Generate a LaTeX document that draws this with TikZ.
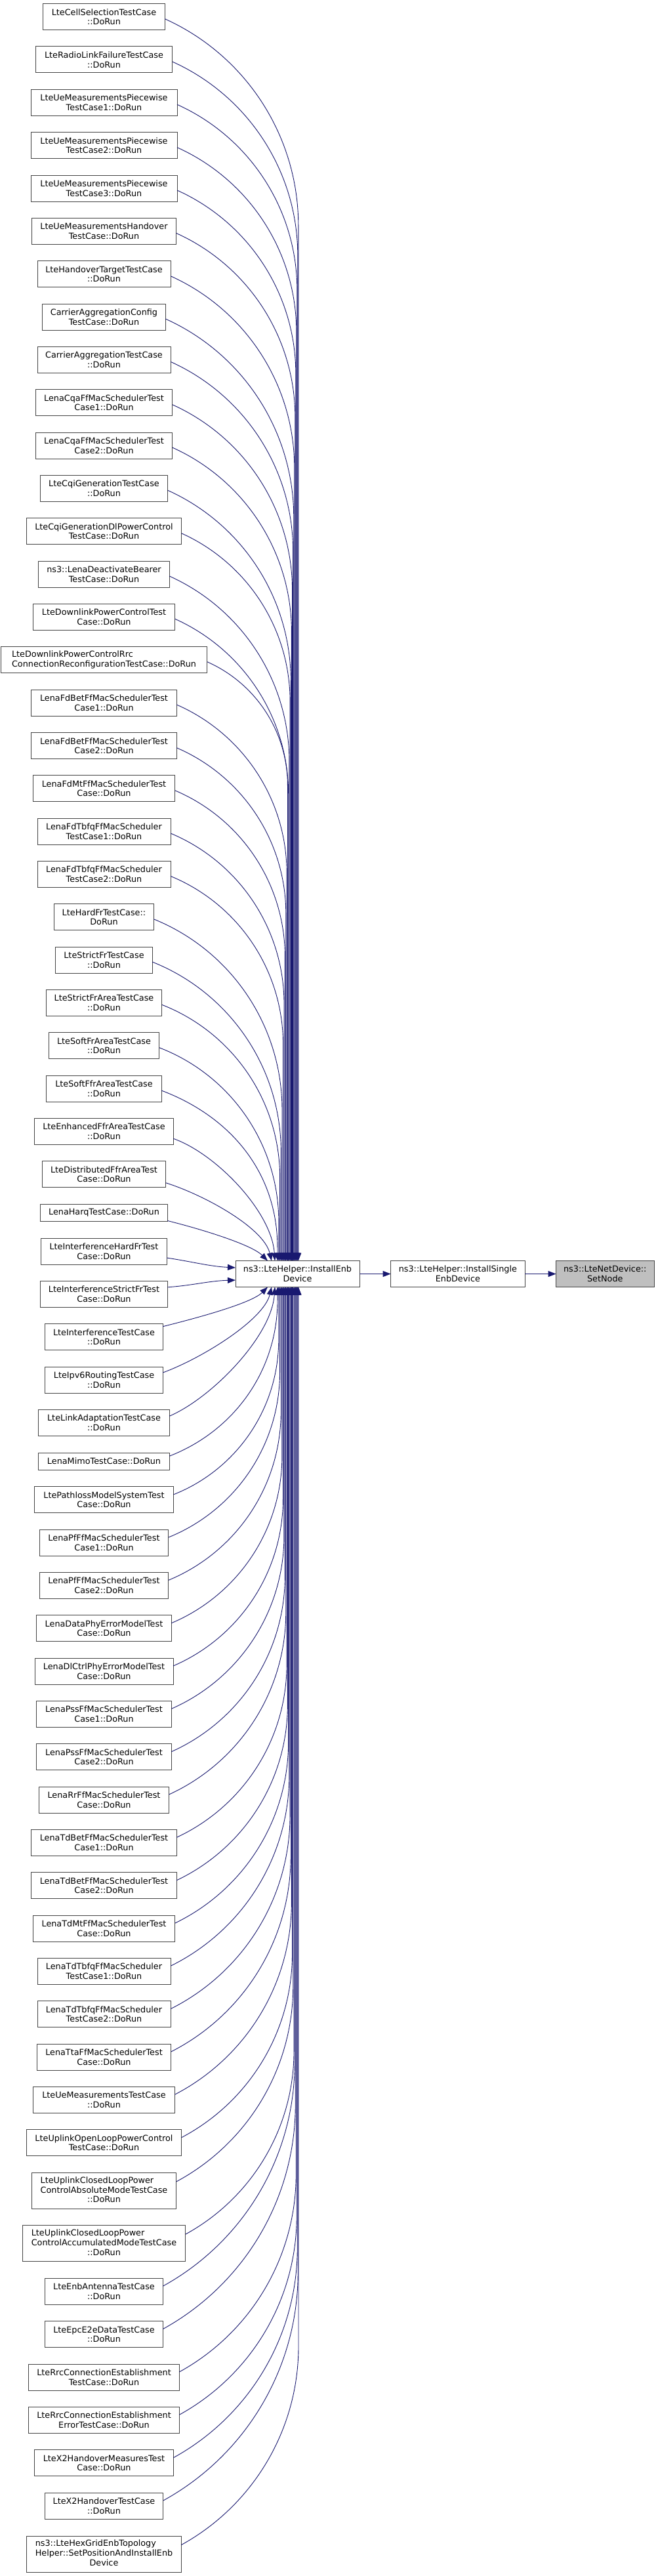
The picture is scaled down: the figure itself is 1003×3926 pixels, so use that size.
\documentclass[tikz,border=0pt]{standalone}
\usepackage{fontspec}
\setmainfont{DejaVu Sans}
\usetikzlibrary{arrows.meta}
\definecolor{edgecol}{HTML}{191970}
\definecolor{boxcol}{HTML}{444444}
\definecolor{hlfill}{HTML}{BFBFBF}
\begin{document}
\begin{tikzpicture}[x=1pt,y=-1pt,
  dbox/.style={draw=boxcol, line width=1pt, fill=white, inner sep=0pt, outer sep=0pt,
    align=center, font=\fontsize{12.8}{14.8}\selectfont, text=black},
  edge/.style={draw=edgecol, line width=0.9pt, -{Triangle[length=12pt,width=9pt]}}]
\useasboundingbox (0,0) rectangle (1003,3926);
\fill[white] (0,0) rectangle (1003,3926);

\node[dbox, minimum width=189pt, minimum height=40pt] (E) at (453.5,1941.5) {ns3::LteHelper::InstallEnb\\Device};
\node[dbox, minimum width=204.3pt, minimum height=40pt] (IS) at (697.85,1941.5) {ns3::LteHelper::InstallSingle\\EnbDevice};
\node[dbox, fill=hlfill, minimum width=149.4pt, minimum height=40pt] (SN) at (922.3,1941.5) {ns3::LteNetDevice::\\SetNode};
\draw[edge] (E.east) -- (IS.west);
\draw[edge] (IS.east) -- (SN.west);

\foreach \i/\cy/\w/\h/\txt in {
 1/25.7/185.3/40/{LteCellSelectionTestCase\\::DoRun},
 2/91/208.4/40/{LteRadioLinkFailureTestCase\\::DoRun},
 3/156.3/223/40/{LteUeMeasurementsPiecewise\\TestCase1::DoRun},
 4/221.7/223/40/{LteUeMeasurementsPiecewise\\TestCase2::DoRun},
 5/287/223/40/{LteUeMeasurementsPiecewise\\TestCase3::DoRun},
 6/352.3/220/40/{LteUeMeasurementsHandover\\TestCase::DoRun},
 7/417.7/203/40/{LteHandoverTargetTestCase\\::DoRun},
 8/483/187.6/40/{CarrierAggregationConfig\\TestCase::DoRun},
 9/548.3/203/40/{CarrierAggregationTestCase\\::DoRun},
 10/613.7/208.4/40/{LenaCqaFfMacSchedulerTest\\Case1::DoRun},
 11/679/208.4/40/{LenaCqaFfMacSchedulerTest\\Case2::DoRun},
 12/744.3/194.4/40/{LteCqiGenerationTestCase\\::DoRun},
 13/809.7/236/40/{LteCqiGenerationDlPowerControl\\TestCase::DoRun},
 14/875/199.3/40/{ns3::LenaDeactivateBearer\\TestCase::DoRun},
 15/940.3/216.7/40/{LteDownlinkPowerControlTest\\Case::DoRun},
 16/1005.7/314.8/40/{\begin{tabular}{@{}l@{}}LteDownlinkPowerControlRrc\\ConnectionReconfigurationTestCase::DoRun\end{tabular}},
 17/1071/221.6/40/{LenaFdBetFfMacSchedulerTest\\Case1::DoRun},
 18/1136.7/221.6/40/{LenaFdBetFfMacSchedulerTest\\Case2::DoRun},
 19/1201.7/216.4/40/{LenaFdMtFfMacSchedulerTest\\Case::DoRun},
 20/1267/203/40/{LenaFdTbfqFfMacScheduler\\TestCase1::DoRun},
 21/1332.3/203/40/{LenaFdTbfqFfMacScheduler\\TestCase2::DoRun},
 22/1397.7/151.3/40/{LteHardFrTestCase::\\DoRun},
 23/1463/147.3/40/{LteStrictFrTestCase\\::DoRun},
 24/1528.3/176.7/40/{LteStrictFrAreaTestCase\\::DoRun},
 25/1593.7/168.7/40/{LteSoftFrAreaTestCase\\::DoRun},
 26/1659/175.3/40/{LteSoftFfrAreaTestCase\\::DoRun},
 27/1724.3/211.6/40/{LteEnhancedFfrAreaTestCase\\::DoRun},
 28/1789.7/188.4/40/{LteDistributedFfrAreaTest\\Case::DoRun},
 29/1848.5/194/25.6/{LenaHarqTestCase::DoRun},
 30/1907/191.3/40/{LteInterferenceHardFrTest\\Case::DoRun},
 31/1972.3/194/40/{LteInterferenceStrictFrTest\\Case::DoRun},
 32/2037.7/179.3/40/{LteInterferenceTestCase\\::DoRun},
 33/2103/179.3/40/{LteIpv6RoutingTestCase\\::DoRun},
 34/2168.3/199.3/40/{LteLinkAdaptationTestCase\\::DoRun},
 35/2227.2/199.3/25.7/{LenaMimoTestCase::DoRun},
 36/2285.7/212.4/40/{LtePathlossModelSystemTest\\Case::DoRun},
 37/2351/196.7/40/{LenaPfFfMacSchedulerTest\\Case1::DoRun},
 38/2416.3/196.7/40/{LenaPfFfMacSchedulerTest\\Case2::DoRun},
 39/2481.7/205.6/40/{LenaDataPhyErrorModelTest\\Case::DoRun},
 40/2547/211/40/{LenaDlCtrlPhyErrorModelTest\\Case::DoRun},
 41/2612.3/205.6/40/{LenaPssFfMacSchedulerTest\\Case1::DoRun},
 42/2677.7/205.6/40/{LenaPssFfMacSchedulerTest\\Case2::DoRun},
 43/2743/198/40/{LenaRrFfMacSchedulerTest\\Case::DoRun},
 44/2808.3/221.6/40/{LenaTdBetFfMacSchedulerTest\\Case1::DoRun},
 45/2873.7/221.6/40/{LenaTdBetFfMacSchedulerTest\\Case2::DoRun},
 46/2939/216.4/40/{LenaTdMtFfMacSchedulerTest\\Case::DoRun},
 47/3004.3/203/40/{LenaTdTbfqFfMacScheduler\\TestCase1::DoRun},
 48/3069.7/203/40/{LenaTdTbfqFfMacScheduler\\TestCase2::DoRun},
 49/3135/204.4/40/{LenaTtaFfMacSchedulerTest\\Case::DoRun},
 50/3200.3/215.6/40/{LteUeMeasurementsTestCase\\::DoRun},
 51/3265.7/236.4/40/{LteUplinkOpenLoopPowerControl\\TestCase::DoRun},
 52/3339/220.4/55.4/{\begin{tabular}{@{}l@{}}LteUplinkClosedLoopPower\\ControlAbsoluteModeTestCase\\\multicolumn{1}{@{}c@{}}{::DoRun}\end{tabular}},
 53/3419.2/248.4/55/{\begin{tabular}{@{}l@{}}LteUplinkClosedLoopPower\\ControlAccumulatedModeTestCase\\\multicolumn{1}{@{}c@{}}{::DoRun}\end{tabular}},
 54/3492.3/179.3/40/{LteEnbAntennaTestCase\\::DoRun},
 55/3557.7/179.3/40/{LteEpcE2eDataTestCase\\::DoRun},
 56/3623/229.6/40/{LteRrcConnectionEstablishment\\TestCase::DoRun},
 57/3688.3/229.6/40/{LteRrcConnectionEstablishment\\ErrorTestCase::DoRun},
 58/3753.7/211.7/40/{LteX2HandoverMeasuresTest\\Case::DoRun},
 59/3819/180.7/40/{LteX2HandoverTestCase\\::DoRun},
 60/3892.7/235.3/55.3/{\begin{tabular}{@{}l@{}}ns3::LteHexGridEnbTopology\\Helper::SetPositionAndInstallEnb\\\multicolumn{1}{@{}c@{}}{Device}\end{tabular}}%
}{
  \node[dbox, minimum width=\w pt, minimum height=\h pt] (n\i) at (158.5,\cy) {\txt};
  \pgfmathsetmacro\eRx{158.5+\w/2}
  \ifnum\i<27
    \pgfmathsetmacro\eS{3}
    \pgfmathsetmacro\eSy{\cy+\eS}
    \pgfmathsetmacro\eDy{abs(1941.5-\cy)}
    \pgfmathsetmacro\eM{0.35+0.1*min(1,\eDy/1000)}
    \pgfmathsetmacro\eLim{1921.5-\eSy-20}
  \else
    \pgfmathsetmacro\eS{\h>50 ? 14 : 8}
    \pgfmathsetmacro\eSy{\cy-\eS}
    \pgfmathsetmacro\eDy{abs(\cy-1941.5)}
    \pgfmathsetmacro\eM{0.35+0.2*min(1,\eDy/1500)}
    \pgfmathsetmacro\eLim{\eSy-1961.5-20}
  \fi
  \pgfmathsetmacro\eXt{408+47*(max(0.001,min(1,\eDy/1930)))^0.6}
  \pgfmathsetmacro\eXo{\eXt-359}
  \pgfmathsetmacro\eTh{atan(\eM)}
  \pgfmathsetmacro\eRad{(\eXt-\eRx)/(1-sin(\eTh))}
  \pgfmathsetmacro\eR{max(0,min(\eRad*cos(\eTh),\eLim))}
  \pgfmathsetmacro\eH{4/3*tan((90-\eTh)/4)*\eRad}
  \pgfmathsetmacro\eHb{min(\eH,0.55*\eR)}
  \pgfmathsetmacro\eHx{\eH*cos(\eTh)}
  \pgfmathsetmacro\eHy{\eH*sin(\eTh)}
  \ifnum\i<27
    \pgfmathsetmacro\eBy{\eSy+\eR}
    \draw[edge] ([yshift=-\eS pt]n\i.east) .. controls +(\eHx,\eHy) and +(0,-\eHb) .. (\eXt,\eBy) -- ([xshift=\eXo pt]E.north west);
  \else\ifnum\i>34
    \pgfmathsetmacro\eBy{\eSy-\eR}
    \draw[edge] ([yshift=\eS pt]n\i.east) .. controls +(\eHx,-\eHy) and +(0,\eHb) .. (\eXt,\eBy) -- ([xshift=\eXo pt]E.south west);
  \fi\fi
}

\draw[edge] ([yshift=-11pt]n27.east) .. controls +(65,23) and +(-5,-75) .. ([xshift=60pt]E.north west);
\draw[edge] ([yshift=-13pt]n28.east) .. controls +(60,19) and +(-12,-50) .. ([xshift=55pt]E.north west);
\draw[edge] ([yshift=-12pt]n29.east) .. controls +(50,12.5) and +(-25,-25) .. ([xshift=49pt]E.north west);
\draw[edge] ([yshift=-10pt]n30.east) .. controls +(40,6) and +(-40,-2) .. ([yshift=9.5pt]E.west);
\draw[edge] ([yshift=10.5pt]n31.east) .. controls +(40,-3) and +(-40,1) .. ([yshift=-9.5pt]E.west);
\draw[edge] ([yshift=16pt]n32.east) .. controls +(50,-12.5) and +(-25,25) .. ([xshift=49pt]E.south west);
\draw[edge] ([yshift=11pt]n33.east) .. controls +(60,-22) and +(-12,50) .. ([xshift=55pt]E.south west);
\draw[edge] ([yshift=10pt]n34.east) .. controls +(65,-28) and +(-5,75) .. ([xshift=60pt]E.south west);
\end{tikzpicture}
\end{document}
